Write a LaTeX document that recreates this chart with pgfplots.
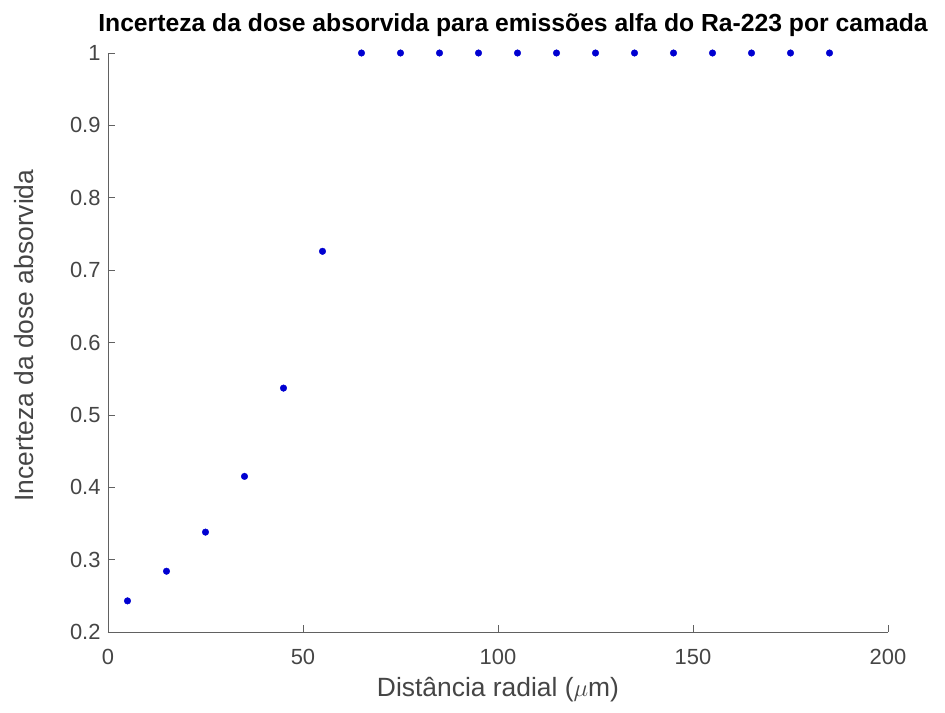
\documentclass[border=0pt]{standalone}
\usepackage{pgfplots}
\pgfplotsset{compat=1.18}
\usepackage{fontspec}
\setmainfont{Liberation Sans}
\definecolor{axgray}{rgb}{0.38,0.38,0.38}
\definecolor{txtgray}{rgb}{0.27,0.27,0.27}
\definecolor{ptblue}{rgb}{0,0,0.82}
\begin{document}
\begin{tikzpicture}
\path[use as bounding box] (-108bp,-81bp) rectangle (837bp,632bp);
\begin{axis}[
  at={(0,0)}, anchor=south west,
  scale only axis, width=780bp, height=579bp,
  xmin=0, xmax=200, ymin=0.2, ymax=1,
  axis x line*=bottom, axis y line*=left,
  axis line style={axgray, line width=0.7pt},
  xtick={0,50,100,150,200},
  ytick={0.2,0.3,0.4,0.5,0.6,0.7,0.8,0.9,1},
  tick align=inside, major tick length=7bp,
  tick style={axgray, line width=0.6pt},
  /pgf/number format/assume math mode=true,
  yticklabel style={/pgf/number format/fixed, /pgf/number format/precision=1, xshift=-4bp},
  xticklabel style={yshift=-14bp},
  ticklabel style={font=\fontsize{22}{25}\selectfont, text=txtgray},
  xlabel={Distância radial ($\mu$m)},
  ylabel={Incerteza da dose absorvida},
  label style={font=\fontsize{26.5}{30}\selectfont, text=txtgray},
  xlabel style={at={(rel axis cs:0.5,0)}, anchor=base, yshift=-64bp},
  ylabel style={at={(rel axis cs:0,0.5)}, anchor=center, yshift=84bp, xshift=7bp},
  clip=false,
]
\addplot[only marks, mark=*, mark size=3.3bp, color=ptblue] coordinates {
(5,0.243) (15,0.284) (25,0.338) (35,0.415) (45,0.537) (55,0.726)
(65,1) (75,1) (85,1) (95,1) (105,1) (115,1) (125,1) (135,1) (145,1)
(155,1) (165,1) (175,1) (185,1)
};
\node[font=\bfseries\fontsize{24.8}{28}\selectfont, anchor=base] at (rel axis cs:0.5,1) [yshift=22bp, xshift=15bp] {Incerteza da dose absorvida para emissões alfa do Ra-223 por camada};
\end{axis}
\end{tikzpicture}
\end{document}
